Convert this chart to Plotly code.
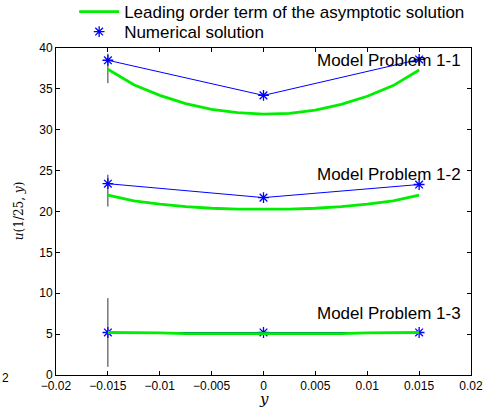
import plotly.graph_objects as go

x_num = [-0.015, 0.0, 0.015]
num_p1 = [38.5, 34.2, 38.6]
num_p2 = [23.4, 21.7, 23.3]
num_p3 = [5.2, 5.2, 5.2]

x_asym = [-0.015, -0.0125, -0.01, -0.0075, -0.005, -0.0025, 0.0, 0.0025, 0.005, 0.0075, 0.01, 0.0125, 0.015]
asym_p1 = [37.4, 35.5, 34.2, 33.2, 32.5, 32.1, 31.9, 32.0, 32.4, 33.1, 34.1, 35.4, 37.3]
asym_p2 = [22.0, 21.3, 20.9, 20.6, 20.4, 20.3, 20.3, 20.3, 20.4, 20.6, 20.9, 21.3, 22.0]
asym_p3 = [5.2, 5.2, 5.15, 5.05, 5.05, 5.05, 5.05, 5.05, 5.05, 5.05, 5.15, 5.2, 5.2]

bar_x = -0.015
bar_ranges = [(35.7, 39.3), (20.6, 24.5), (1.0, 9.4)]

labels = ["Model Problem 1-1", "Model Problem 1-2", "Model Problem 1-3"]
label_y = [38.5, 24.5, 7.5]

FONT = "Liberation Sans, Arial, Helvetica"

fig = go.Figure()

for lo, hi in bar_ranges:
    fig.add_trace(go.Scatter(x=[bar_x, bar_x], y=[lo, hi], mode="lines",
                             line=dict(color="#333333", width=1), showlegend=False, hoverinfo="skip"))

star = dict(symbol="asterisk-open", size=9, color="#0000ff", line=dict(width=1.3, color="#0000ff"))
for ys in [num_p1, num_p2, num_p3]:
    fig.add_trace(go.Scatter(x=x_num, y=ys, mode="lines+markers",
                             line=dict(color="#0000ff", width=1), marker=star,
                             name="Numerical solution", showlegend=False))

for i, ys in enumerate([asym_p1, asym_p2, asym_p3]):
    fig.add_trace(go.Scatter(x=x_asym, y=ys, mode="lines", line=dict(color="#00ee00", width=2.8),
                             name="Leading order term of the asymptotic solution", showlegend=(i == 0),
                             legend="legend"))

fig.add_trace(go.Scatter(x=[None], y=[None], mode="markers", marker=star,
                         name="Numerical solution", showlegend=True, legend="legend2"))

for lab, ly in zip(labels, label_y):
    fig.add_annotation(x=0.0192, y=ly, text=lab, showarrow=False, xanchor="right", yanchor="middle",
                       font=dict(size=17, color="black", family=FONT))

fig.add_annotation(xref="paper", yref="paper", x=-0.135, y=-0.01, text="2", showarrow=False,
                   xanchor="left", yanchor="middle", font=dict(size=12, color="black", family=FONT))

# axis titles
fig.add_annotation(xref="paper", yref="paper", x=0.5, y=-0.074, text="<i>y</i>", showarrow=False,
                   xanchor="center", yanchor="middle", font=dict(size=15, color="black", family="DejaVu Serif"))
fig.add_annotation(xref="paper", yref="paper", x=-0.09, y=0.5, text="<i>u</i>(1/25, <i>y</i>)",
                   showarrow=False, textangle=-90, xanchor="center", yanchor="middle",
                   font=dict(size=12, color="black", family="DejaVu Serif"))

axis_common = dict(showline=True, linecolor="black", linewidth=1, mirror="ticks", ticks="inside",
                   ticklen=4, tickcolor="black", showgrid=False, zeroline=False, automargin=False,
                   tickfont=dict(size=12, color="black", family=FONT))

leg_common = dict(xref="container", yref="container", xanchor="left", yanchor="middle",
                  orientation="v", font=dict(size=17, color="black", family=FONT),
                  bgcolor="rgba(0,0,0,0)", itemwidth=40)

fig.update_layout(
    width=491, height=409,
    margin=dict(l=56, r=20, t=48, b=34, autoexpand=False),
    paper_bgcolor="white", plot_bgcolor="white",
    font=dict(family=FONT, color="black"),
    xaxis=dict(range=[-0.02, 0.02], tickvals=[-0.02, -0.015, -0.01, -0.005, 0, 0.005, 0.01, 0.015, 0.02],
               ticktext=["\u22120.02", "\u22120.015", "\u22120.01", "\u22120.005", "0", "0.005", "0.01", "0.015", "0.02"],
               **axis_common),
    yaxis=dict(range=[0, 40], tickvals=list(range(0, 41, 5)), **axis_common),
    legend=dict(x=0.151, y=1 - 12 / 409, **leg_common),
    legend2=dict(x=0.151, y=1 - 32 / 409, **leg_common),
)

fig.write_html("out.html")
